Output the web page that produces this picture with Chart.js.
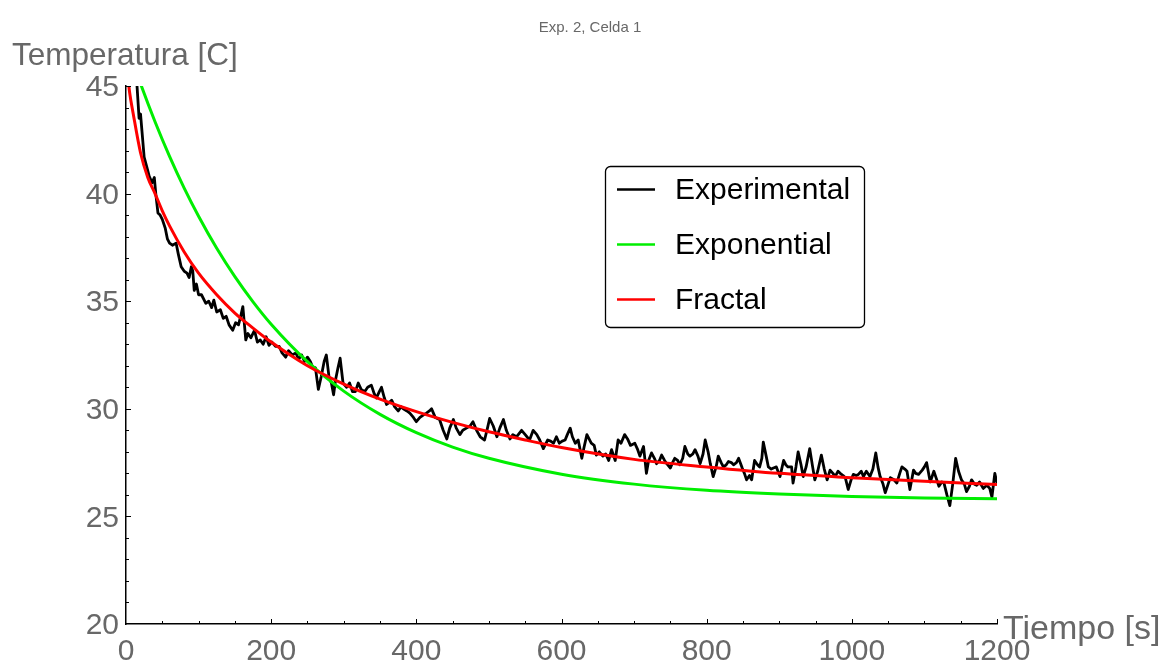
<!DOCTYPE html>
<html>
<head>
<meta charset="utf-8">
<title>Exp. 2, Celda 1</title>
<script src="https://cdn.jsdelivr.net/npm/chart.js@4.4.1/dist/chart.umd.min.js"></script>
<style>
  html, body { margin: 0; padding: 0; background: #ffffff; }
  #wrap { width: 1168px; height: 660px; position: relative; }
  canvas { display: block; }
</style>
</head>
<body>
<div id="wrap"><canvas id="plot" width="1168" height="660"></canvas></div>
<script>
// ---- measured cooling curve (time in s, temperature in C) ----
const expTime = [
  0, 5, 10, 15, 18, 20, 22, 25, 29, 32, 36, 39, 41, 44, 47, 50, 54, 57, 60, 64,
  69, 72, 76, 80, 84, 87, 90, 92, 94, 97, 100, 104, 110, 114, 118, 121, 125, 130, 134, 138,
  142, 147, 151, 155, 158, 161, 165, 168, 172, 177, 181, 185, 189, 193, 197, 201, 206, 211, 215, 220,
  224, 229, 234, 238, 242, 246, 250, 254, 257, 261, 265, 269, 273, 276, 280, 283, 286, 289, 292, 295,
  299, 304, 308, 312, 316, 320, 324, 329, 333, 338, 342, 345, 349, 352, 356, 359, 363, 366, 370, 375,
  379, 382, 387, 391, 396, 400, 405, 409, 414, 418, 421, 426, 432, 437, 442, 446, 451, 455, 460, 464,
  469, 474, 478, 483, 488, 494, 498, 501, 506, 511, 515, 520, 524, 529, 533, 538, 545, 550, 556, 561,
  566, 570, 575, 581, 585, 589, 593, 597, 601, 605, 608, 612, 615, 619, 623, 628, 631, 635, 638, 641,
  645, 648, 652, 657, 661, 665, 669, 674, 678, 682, 687, 691, 695, 701, 705, 708, 713, 717, 720, 724,
  728, 731, 735, 738, 742, 745, 750, 753, 756, 760, 763, 767, 770, 774, 777, 781, 784, 788, 791, 795,
  798, 802, 805, 809, 813, 816, 820, 823, 827, 830, 834, 837, 841, 844, 849, 852, 855, 859, 862, 866,
  870, 873, 876, 878, 882, 885, 889, 892, 896, 901, 906, 909, 912, 917, 919, 923, 926, 930, 933, 937,
  942, 946, 949, 953, 958, 962, 966, 970, 974, 977, 981, 984, 988, 991, 995, 999, 1002, 1006, 1009, 1013,
  1016, 1020, 1025, 1029, 1033, 1036, 1039, 1043, 1046, 1050, 1053, 1058, 1062, 1066, 1069, 1073, 1076, 1080, 1085, 1088,
  1092, 1097, 1100, 1103, 1108, 1113, 1116, 1120, 1124, 1127, 1131, 1135, 1139, 1143, 1147, 1151, 1155, 1158, 1162, 1165,
  1169, 1172, 1176, 1181, 1186, 1190, 1193, 1197, 1200
];
const expTemp = [
  48.4, 47.3, 46.3, 45.1, 43.5, 43.7, 42.9, 41.7, 41.2, 40.8, 40.5, 40.75, 40.0, 39.1, 39.0, 38.8, 38.4, 37.9, 37.7, 37.6,
  37.7, 37.2, 36.6, 36.4, 36.3, 36.1, 36.6, 36.4, 35.5, 35.8, 35.3, 35.3, 34.9, 35.0, 34.7, 35.05, 34.5, 34.6, 34.2, 34.3,
  33.9, 33.65, 34.0, 33.9, 34.3, 34.75, 33.2, 33.5, 33.3, 33.65, 33.1, 33.2, 33.0, 33.35, 32.95, 33.1, 32.9, 32.9, 32.6, 32.4,
  32.7, 32.5, 32.6, 32.3, 32.5, 32.2, 32.4, 32.2, 31.95, 31.9, 30.9, 31.5, 32.2, 32.5, 31.4, 31.2, 30.65, 31.4, 31.9, 32.35,
  31.2, 31.0, 31.2, 30.8, 30.8, 31.2, 30.9, 30.8, 31.0, 31.1, 30.7, 30.5, 30.8, 31.0, 30.5, 30.2, 30.3, 30.4, 30.1, 29.9,
  30.1, 30.0, 29.9, 29.8, 29.6, 29.4, 29.6, 29.7, 29.8, 29.9, 30.0, 29.6, 29.5, 29.0, 28.6, 29.1, 29.5, 29.1, 28.8, 29.0,
  29.1, 29.2, 29.4, 29.0, 28.7, 28.55, 29.1, 29.55, 29.2, 28.7, 29.1, 29.5, 29.0, 28.6, 28.8, 28.7, 29.0, 28.8, 28.55, 29.0,
  28.8, 28.55, 28.15, 28.55, 28.5, 28.4, 28.7, 28.4, 28.5, 28.55, 28.8, 29.1, 28.7, 28.4, 28.55, 27.7, 28.2, 28.8, 28.6, 28.4,
  28.3, 27.85, 28.0, 27.8, 27.9, 27.6, 28.1, 27.6, 28.55, 28.4, 28.8, 28.6, 28.3, 28.4, 28.1, 27.8, 28.25, 27.0, 27.6, 27.95,
  27.7, 27.45, 27.6, 27.85, 27.6, 27.45, 27.25, 27.5, 27.7, 27.6, 27.4, 27.7, 28.25, 27.9, 27.8, 27.9, 28.1, 27.8, 27.45, 27.9,
  28.55, 28.0, 27.45, 26.85, 27.3, 27.8, 27.5, 27.3, 27.4, 27.55, 27.5, 27.4, 27.5, 27.7, 27.25, 27.0, 26.7, 26.9, 26.7, 27.6,
  27.4, 27.3, 27.7, 28.45, 27.8, 27.3, 27.2, 27.25, 27.3, 26.85, 27.6, 27.4, 27.3, 27.3, 26.55, 27.3, 28.0, 27.4, 26.85, 27.3,
  28.15, 27.3, 26.7, 27.1, 27.85, 27.2, 26.7, 27.15, 27.0, 26.85, 27.1, 27.0, 26.9, 26.8, 26.25, 26.7, 26.95, 26.9, 26.95, 27.1,
  26.85, 27.1, 26.85, 27.2, 27.95, 27.3, 26.85, 26.5, 26.1, 26.5, 26.8, 26.7, 26.55, 27.0, 27.3, 27.2, 27.1, 26.25, 27.15, 27.0,
  26.95, 27.15, 27.3, 27.5, 26.6, 27.1, 26.8, 26.4, 26.6, 26.55, 26.0, 25.5, 26.5, 27.7, 27.1, 26.7, 26.5, 26.15, 26.4, 26.7,
  26.5, 26.45, 26.6, 26.3, 26.45, 26.3, 25.9, 27.0, 26.55
];

// ---- exponential model, sampled ----
const expoTime = [0, 20, 40, 60, 80, 100, 125, 150, 175, 200, 250, 300, 350, 400, 450, 500, 600, 700, 800, 900, 1000, 1100, 1200];
const expoTemp = [47.05, 45.11, 43.34, 41.73, 40.27, 38.95, 37.46, 36.14, 34.97, 33.93, 32.19, 30.82, 29.74, 28.89, 28.22, 27.70, 26.96, 26.50, 26.21, 26.04, 25.93, 25.86, 25.82];

// ---- fractal model, sampled ----
const fracTime = [0, 5, 10, 20, 30, 40, 50, 60, 80, 100, 125, 150, 175, 200, 250, 300, 350, 400, 450, 500, 550, 600, 700, 800, 900, 1000, 1100, 1200];
const fracTemp = [46.2, 44.7, 43.7, 41.9, 40.75, 40.0, 39.2, 38.5, 37.3, 36.3, 35.3, 34.45, 33.75, 33.1, 32.0, 31.15, 30.45, 29.87, 29.37, 28.93, 28.55, 28.2, 27.65, 27.3, 27.0, 26.8, 26.63, 26.48];

// ---- axes ----
const xTicks = [0, 200, 400, 600, 800, 1000, 1200];
const yTicks = [20, 25, 30, 35, 40, 45];

const chartTitle = 'Exp. 2, Celda 1';
const xTitle = 'Tiempo [s]';
const yTitle = 'Temperatura [C]';
const seriesNames = ['Experimental', 'Exponential', 'Fractal'];
const seriesColors = ['#000000', '#00ee00', '#ff0000'];

const FONT = '"Liberation Sans", Arial, Helvetica, sans-serif';
const GREY = '#686868';

function pairs(xs, ys) { return xs.map((x, i) => ({ x: x, y: ys[i] })); }

// inward tick marks, axis titles, plot title and framed legend
const decor = {
  id: 'decor',
  afterDatasetsDraw(chart) {
    const ctx = chart.ctx;
    const xs = chart.scales.x, ys = chart.scales.y;
    const area = chart.chartArea;
    ctx.save();
    ctx.strokeStyle = '#000';
    ctx.lineWidth = 1;
    // x ticks every 50 s, longer every 200 s
    for (let v = xs.min; v <= xs.max; v += 50) {
      const px = Math.round(xs.getPixelForValue(v)) + 0.5;
      const len = (v % 200 === 0) ? 5 : 3;
      if (v === xs.min) continue;
      ctx.beginPath(); ctx.moveTo(px, area.bottom); ctx.lineTo(px, area.bottom - len); ctx.stroke();
    }
    // y ticks every 1 C, longer every 5 C
    for (let v = ys.min; v <= ys.max; v += 1) {
      const py = Math.round(ys.getPixelForValue(v)) + 0.5;
      const len = (v % 5 === 0) ? 5 : 3;
      if (v === ys.min) continue;
      ctx.beginPath(); ctx.moveTo(area.left, py); ctx.lineTo(area.left + len, py); ctx.stroke();
    }
    ctx.restore();
  },
  afterDraw(chart) {
    const ctx = chart.ctx;
    ctx.save();
    ctx.fillStyle = GREY;
    ctx.textBaseline = 'alphabetic';
    ctx.font = '15px ' + FONT;
    ctx.textAlign = 'center';
    ctx.fillText(chartTitle, 590, 32);
    ctx.textAlign = 'left';
    ctx.font = '31.5px ' + FONT;
    ctx.fillText(yTitle, 12, 65);
    ctx.font = '34px ' + FONT;
    ctx.fillText(xTitle, 1003, 639);

    // legend frame
    const bx = 605.5, by = 166.5, bw = 259, bh = 161, r = 5;
    ctx.beginPath();
    ctx.moveTo(bx + r, by);
    ctx.lineTo(bx + bw - r, by); ctx.arcTo(bx + bw, by, bx + bw, by + r, r);
    ctx.lineTo(bx + bw, by + bh - r); ctx.arcTo(bx + bw, by + bh, bx + bw - r, by + bh, r);
    ctx.lineTo(bx + r, by + bh); ctx.arcTo(bx, by + bh, bx, by + bh - r, r);
    ctx.lineTo(bx, by + r); ctx.arcTo(bx, by, bx + r, by, r);
    ctx.closePath();
    ctx.fillStyle = '#fff';
    ctx.fill();
    ctx.strokeStyle = '#000';
    ctx.lineWidth = 1.3;
    ctx.stroke();

    ctx.font = '30px ' + FONT;
    ctx.textBaseline = 'middle';
    ctx.fillStyle = '#000';
    seriesNames.forEach((name, i) => {
      const cy = 189.5 + i * 55;
      ctx.strokeStyle = seriesColors[i];
      ctx.lineWidth = 2.5;
      ctx.beginPath(); ctx.moveTo(617, cy); ctx.lineTo(655, cy); ctx.stroke();
      ctx.fillText(name, 675, cy + 1);
    });
    ctx.restore();
  }
};

const tickFont = { family: FONT, size: 30 };

new Chart(document.getElementById('plot'), {
  type: 'line',
  data: {
    datasets: [
      { label: seriesNames[0], data: pairs(expTime, expTemp), borderColor: seriesColors[0], borderWidth: 2.8, tension: 0, order: 3 },
      { label: seriesNames[1], data: pairs(expoTime, expoTemp), borderColor: seriesColors[1], borderWidth: 3, cubicInterpolationMode: 'monotone', order: 2 },
      { label: seriesNames[2], data: pairs(fracTime, fracTemp), borderColor: seriesColors[2], borderWidth: 3, cubicInterpolationMode: 'monotone', order: 1 }
    ]
  },
  options: {
    responsive: false,
    animation: false,
    devicePixelRatio: 1,
    elements: { point: { radius: 0, hoverRadius: 0 }, line: { borderJoinStyle: 'round', borderCapStyle: 'round' } },
    layout: { padding: { left: 0, right: 171, top: 86, bottom: 0 } },
    plugins: { legend: { display: false }, tooltip: { enabled: false }, title: { display: false } },
    scales: {
      x: {
        type: 'linear', min: 0, max: 1200,
        afterBuildTicks(s) { s.ticks = xTicks.map(v => ({ value: v })); },
        afterFit(s) { s.height = 36; },
        ticks: { color: GREY, font: tickFont, padding: 10, maxRotation: 0, autoSkip: false, callback: v => String(v) },
        grid: { display: false, drawTicks: false },
        border: { display: true, color: '#000', width: 1.5 }
      },
      y: {
        type: 'linear', min: 20, max: 45,
        afterBuildTicks(s) { s.ticks = yTicks.map(v => ({ value: v })); },
        afterFit(s) { s.width = 126; },
        ticks: { color: GREY, font: tickFont, padding: 7, labelOffset: 2, callback: v => String(v) },
        grid: { display: false, drawTicks: false },
        border: { display: true, color: '#000', width: 1.5 }
      }
    }
  },
  plugins: [decor]
});
</script>
</body>
</html>
